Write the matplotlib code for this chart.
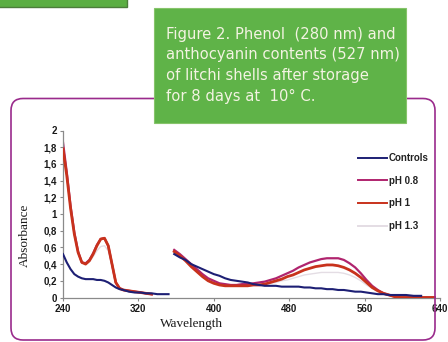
import numpy as np
import matplotlib
matplotlib.use("Agg")
import matplotlib.pyplot as plt
from matplotlib.patches import FancyBboxPatch, Rectangle

nan = np.nan

# Wavelength grid (nm); the NaN column at 354 nm separates the two scans
wavelength = [240, 244, 248, 252, 256, 260, 264, 268, 272, 276, 280, 284, 288, 292, 296, 300,
              304, 310, 316, 322, 328, 334, 340, 346, 352, 354,
              358, 364, 370, 376, 382, 388, 394, 400, 406, 412, 418, 424, 430, 436, 442, 448,
              454, 460, 466, 472, 478, 484, 490, 496, 502, 508, 514, 520, 526, 532, 538, 544,
              550, 556, 562, 568, 574, 580, 586, 592, 598, 604, 612, 620, 628, 634]

controls = [0.52, 0.42, 0.34, 0.28, 0.25, 0.23, 0.22, 0.22, 0.22, 0.21, 0.21, 0.20, 0.18, 0.15, 0.12, 0.10,
            0.09, 0.07, 0.06, 0.06, 0.05, 0.05, 0.04, 0.04, 0.04, nan,
            0.52, 0.48, 0.45, 0.40, 0.37, 0.34, 0.31, 0.28, 0.26, 0.23, 0.21, 0.20, 0.19, 0.18, 0.16, 0.15,
            0.14, 0.14, 0.14, 0.13, 0.13, 0.13, 0.13, 0.12, 0.12, 0.11, 0.11, 0.10, 0.10, 0.09, 0.09, 0.08,
            0.07, 0.07, 0.06, 0.05, 0.04, 0.04, 0.03, 0.03, 0.03, 0.03, 0.02, 0.02, nan, nan]

ph_08 = [1.86, 1.50, 1.10, 0.78, 0.55, 0.42, 0.41, 0.45, 0.53, 0.63, 0.70, 0.71, 0.62, 0.40, 0.18, 0.11,
         0.09, 0.08, 0.07, 0.06, 0.05, 0.04, nan, nan, nan, nan,
         0.57, 0.52, 0.46, 0.40, 0.34, 0.28, 0.23, 0.20, 0.17, 0.16, 0.15, 0.15, 0.16, 0.16, 0.17, 0.18,
         0.19, 0.21, 0.23, 0.26, 0.29, 0.32, 0.36, 0.39, 0.42, 0.44, 0.46, 0.47, 0.47, 0.47, 0.45, 0.41,
         0.36, 0.29, 0.21, 0.14, 0.09, 0.05, 0.03, 0.01, 0.00, 0.00, 0.00, 0.00, 0.00, 0.00]

ph_10 = [1.78, 1.46, 1.07, 0.76, 0.54, 0.42, 0.40, 0.44, 0.52, 0.62, 0.70, 0.71, 0.62, 0.40, 0.18, 0.11,
         0.09, 0.08, 0.07, 0.06, 0.05, 0.04, nan, nan, nan, nan,
         0.55, 0.50, 0.44, 0.37, 0.31, 0.25, 0.20, 0.17, 0.15, 0.14, 0.14, 0.14, 0.14, 0.14, 0.15, 0.15,
         0.16, 0.18, 0.20, 0.22, 0.25, 0.27, 0.30, 0.33, 0.35, 0.37, 0.38, 0.39, 0.39, 0.38, 0.36, 0.33,
         0.29, 0.24, 0.18, 0.12, 0.08, 0.05, 0.03, 0.01, 0.00, 0.00, 0.00, 0.00, 0.00, 0.00]

ph_13 = [1.80, 1.47, 1.08, 0.77, 0.54, 0.42, 0.40, 0.43, 0.49, 0.56, 0.61, 0.62, 0.56, 0.38, 0.18, 0.11,
         0.09, 0.08, 0.07, 0.06, 0.05, 0.04, nan, nan, nan, nan,
         0.56, 0.51, 0.45, 0.38, 0.32, 0.26, 0.21, 0.18, 0.16, 0.15, 0.15, 0.15, 0.15, 0.15, 0.15, 0.16,
         0.16, 0.17, 0.18, 0.20, 0.21, 0.23, 0.25, 0.27, 0.28, 0.29, 0.30, 0.30, 0.30, 0.30, 0.29, 0.27,
         0.24, 0.20, 0.15, 0.11, 0.07, 0.04, 0.02, 0.01, 0.00, 0.00, 0.00, 0.00, 0.00, 0.00]

series_labels = ["Controls", "pH 0.8", "pH 1", "pH 1.3"]
series_colors = ["#1d1f74", "#b0246e", "#c8321c", "#e4dde4"]
series_widths = [1.5, 1.6, 2.0, 1.0]
series_layers = [4, 2, 3, 1]

x_ticks = [240, 320, 400, 480, 560, 640]
y_ticks = [0, 0.2, 0.4, 0.6, 0.8, 1.0, 1.2, 1.4, 1.6, 1.8, 2.0]
y_tick_labels = ["0", "0,2", "0,4", "0,6", "0,8", "1", "1,2", "1,4", "1,6", "1,8", "2"]

caption_lines = ["Figure 2. Phenol  (280 nm) and",
                 "anthocyanin contents (527 nm)",
                 "of litchi shells after storage",
                 "for 8 days at  10\u00b0 C."]

W, H = 448, 342
fig = plt.figure(figsize=(W / 100, H / 100), dpi=100)
fig.patch.set_facecolor("white")


def fx(px):
    return px / W


def fy(py):
    return 1 - py / H


# ---- chart ----
ax = fig.add_axes([fx(63), fy(297.5), fx(440) - fx(63), fy(130.5) - fy(297.5)], zorder=2)
ax.set_facecolor("none")
for s, lab, c, lw, z in zip([controls, ph_08, ph_10, ph_13], series_labels, series_colors,
                            series_widths, series_layers):
    ax.plot(wavelength, s, color=c, lw=lw, label=lab, zorder=z, solid_joinstyle="round")

ax.set_xlim(240, 640)
ax.set_ylim(0, 2)
ax.set_xticks(x_ticks)
ax.set_xticklabels([str(t) for t in x_ticks])
ax.set_yticks(y_ticks)
ax.set_yticklabels(y_tick_labels)
for side in ("top", "right"):
    ax.spines[side].set_visible(False)
for side in ("left", "bottom"):
    ax.spines[side].set_color("#8a8a8a")
    ax.spines[side].set_linewidth(0.9)
ax.tick_params(axis="both", length=2.5, width=0.8, color="#8a8a8a", pad=2,
               labelsize=7, labelcolor="#1a1a1a")
for t in ax.get_xticklabels() + ax.get_yticklabels():
    t.set_fontfamily("Liberation Sans")
    t.set_fontweight("bold")

leg = ax.legend(loc="upper left", bbox_to_anchor=(fx(358), fy(153)),
                bbox_transform=fig.transFigure, frameon=False,
                prop={"family": "Liberation Sans", "size": 7, "weight": "bold"},
                handlelength=3.0, handletextpad=0.15, labelspacing=1.3, borderpad=0,
                borderaxespad=0)
for t in leg.get_texts():
    t.set_color("#222222")
for h in leg.get_lines():
    h.set_linewidth(1.4)

fig.text(fx(25), fy(235), "Absorbance", rotation=90, ha="center", va="center",
         family="Liberation Serif", fontsize=9.5, color="#1a1a1a")
fig.text(fx(191), fy(324), "Wavelength", ha="center", va="center",
         family="Liberation Serif", fontsize=9.5, color="#1a1a1a")

# ---- slide decoration drawn on top in pixel coordinates ----
ov = fig.add_axes([0, 0, 1, 1], zorder=5)
ov.set_xlim(0, W)
ov.set_ylim(H, 0)
ov.axis("off")
ov.patch.set_alpha(0)

frame = FancyBboxPatch((11, 98.5), 424, 241.5, boxstyle="round,pad=0,rounding_size=12",
                       facecolor="none", edgecolor="#9a2b8c", lw=1.2)
ov.add_patch(frame)

ov.add_patch(Rectangle((-2, -2), 129, 8.5, facecolor="#5aae42", edgecolor="#4b7d3a", lw=1.0))
ov.add_patch(Rectangle((154, 7.5), 252, 115.5, facecolor="#5fb348", edgecolor="#86c46a", lw=0.8))

for i, line in enumerate(caption_lines):
    ov.text(166, 34 + i * 20.8, line, ha="left", va="center", family="DejaVu Sans",
            fontsize=10.6, color="#f3f3e2")

fig.savefig("out.png", dpi=100)
